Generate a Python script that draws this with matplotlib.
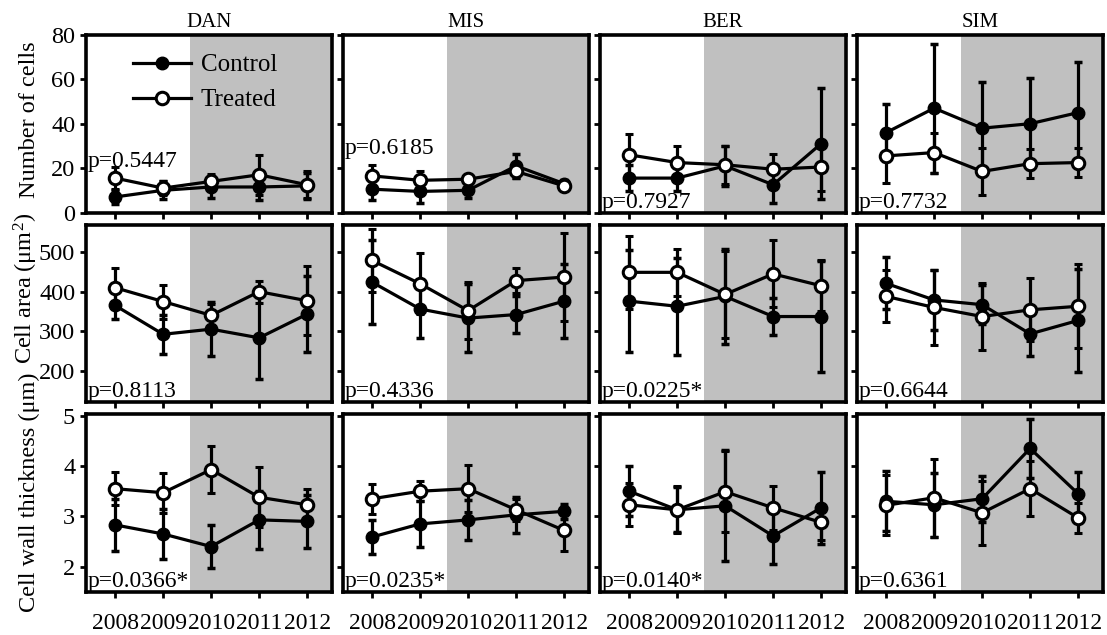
import matplotlib
matplotlib.use("Agg")
import matplotlib.pyplot as plt
from matplotlib.lines import Line2D

plt.rcParams['font.family'] = ['Liberation Serif', 'DejaVu Serif']
plt.rcParams['mathtext.fontset'] = 'custom'
plt.rcParams['mathtext.rm'] = 'Liberation Serif'
plt.rcParams['mathtext.it'] = 'Liberation Serif:italic'

sites = ["DAN", "MIS", "BER", "SIM"]
years = [2008, 2009, 2010, 2011, 2012]

# number of cells
cells_ctrl = [[7, 10, 11.5, 11.5, 12], [10.5, 9.5, 10, 21, 13],
              [15.5, 15.5, 21, 12.5, 31], [36, 47, 38, 40, 45]]
cells_ctrl_sd = [[3, 4, 5, 6, 6], [5, 5, 3.5, 5.5, 1.5],
                 [6, 6, 9, 8, 25], [13, 29, 21, 20.5, 23]]
cells_trt = [[15.5, 11, 14, 17, 12.5], [16.5, 14.5, 15, 18.5, 12],
             [26, 22.5, 21.5, 19.5, 20.5], [25.5, 27, 18.5, 22, 22.5]]
cells_trt_sd = [[5, 3, 3.5, 9, 6], [5, 4, 2.5, 3, 1],
                [9.5, 7.5, 8.5, 7, 11], [12, 9, 10.5, 6.5, 6.5]]

# cell area
area_ctrl = [[365, 292, 305, 283, 343], [424, 356, 333, 342, 376],
             [376, 363, 388, 337, 337], [421, 379, 367, 293, 327]]
area_ctrl_sd = [[34, 50, 68, 104, 97], [106, 74, 87, 48, 94],
                [130, 123, 120, 46, 140], [66, 76, 50, 55, 130]]
area_trt = [[410, 375, 340, 400, 377], [479, 420, 352, 428, 437],
            [449, 449, 393, 445, 415], [388, 360, 337, 354, 363]]
area_trt_sd = [[50, 43, 28, 28, 87], [80, 77, 72, 31, 111],
               [93, 60, 110, 85, 65], [66, 95, 85, 80, 107]]

# cell wall thickness
wall_ctrl = [[2.83, 2.65, 2.4, 2.93, 2.9], [2.59, 2.85, 2.93, 3.03, 3.1],
             [3.5, 3.13, 3.21, 2.61, 3.17], [3.3, 3.23, 3.35, 4.35, 3.45]]
wall_ctrl_sd = [[0.52, 0.5, 0.42, 0.58, 0.53], [0.33, 0.46, 0.4, 0.36, 0.15],
                [0.5, 0.45, 1.1, 0.56, 0.72], [0.6, 0.64, 0.46, 0.58, 0.44]]
wall_trt = [[3.55, 3.47, 3.93, 3.38, 3.23], [3.35, 3.5, 3.55, 3.13, 2.72],
            [3.23, 3.13, 3.49, 3.17, 2.88], [3.22, 3.37, 3.07, 3.55, 2.97]]
wall_trt_sd = [[0.33, 0.4, 0.47, 0.6, 0.32], [0.3, 0.2, 0.47, 0.22, 0.4],
               [0.43, 0.47, 0.81, 0.44, 0.35], [0.6, 0.78, 0.64, 0.55, 0.3]]

p_cells = ["p=0.5447", "p=0.6185", "p=0.7927", "p=0.7732"]
p_area = ["p=0.8113", "p=0.4336", "p=0.0225*", "p=0.6644"]
p_wall = ["p=0.0366*", "p=0.0235*", "p=0.0140*", "p=0.6361"]

rows = [
    (cells_ctrl, cells_ctrl_sd, cells_trt, cells_trt_sd, p_cells,
     "Number of cells", (0, 80), [0, 20, 40, 60, 80]),
    (area_ctrl, area_ctrl_sd, area_trt, area_trt_sd, p_area,
     "Cell area (μm$^2$)", (120, 570), [200, 300, 400, 500]),
    (wall_ctrl, wall_ctrl_sd, wall_trt, wall_trt_sd, p_wall,
     "Cell wall thickness (μm)", (1.5, 5.03), [2, 3, 4, 5]),
]
# where the y labels sit along each row (axes fraction)
ylabel_pos = [0.52, 0.64, 0.56]
# vertical position (axes fraction) of the p text in the top row
p_y_top = [0.23, 0.30, 0.0, 0.0]

fig, axes = plt.subplots(3, 4, figsize=(11.07, 6.35), dpi=100)
fig.subplots_adjust(left=0.078, right=0.996, top=0.945, bottom=0.068,
                    wspace=0.048, hspace=0.068)

lw = 2.3
for r, (c_m, c_sd, t_m, t_sd, pvals, ylabel, ylim, yticks) in enumerate(rows):
    for c in range(4):
        ax = axes[r, c]
        ax.axvspan(2009.55, 2013, color='#c0c0c0', lw=0, zorder=0)
        ax.errorbar(years, c_m[c], yerr=c_sd[c], color='black', lw=lw,
                    elinewidth=lw, capsize=3, capthick=2.5,
                    marker='o', ms=9, mfc='black', mec='black', zorder=3)
        ax.errorbar(years, t_m[c], yerr=t_sd[c], color='black', lw=lw,
                    elinewidth=lw, capsize=3, capthick=2.5,
                    marker='o', ms=9, mfc='white', mec='black', mew=2.2,
                    zorder=4)
        ax.set_xlim(2007.4, 2012.51)
        ax.set_ylim(*ylim)
        ax.set_xticks(years)
        ax.set_yticks(yticks)
        ax.tick_params(direction='out', length=4, width=2)
        ax.tick_params(axis='x', labelsize=17, pad=11)
        ax.tick_params(axis='y', labelsize=17.5, pad=4)
        for sp in ax.spines.values():
            sp.set_linewidth(2.6)
        if r < 2:
            ax.set_xticklabels([])
        if c > 0:
            ax.set_yticklabels([])
        else:
            ax.set_ylabel(ylabel, fontsize=17.5)
            ax.yaxis.set_label_coords(-0.19, ylabel_pos[r])
        py = p_y_top[c] if r == 0 else 0.0
        ax.text(0.005, py, pvals[c], transform=ax.transAxes, fontsize=17,
                ha='left', va='bottom', zorder=6)
        if r == 0:
            ax.set_title(sites[c], fontsize=15, pad=6)

handles = [
    Line2D([], [], color='black', lw=lw, marker='o', ms=9, mfc='black'),
    Line2D([], [], color='black', lw=lw, marker='o', ms=9, mfc='white', mew=2.2),
]
axes[0, 0].legend(handles, ["Control", "Treated"], loc='upper left',
                  bbox_to_anchor=(0.10, 1.02), frameon=False, fontsize=18,
                  handlelength=2.3, handletextpad=0.4, labelspacing=0.5)

fig.savefig("out.png", dpi=100)
